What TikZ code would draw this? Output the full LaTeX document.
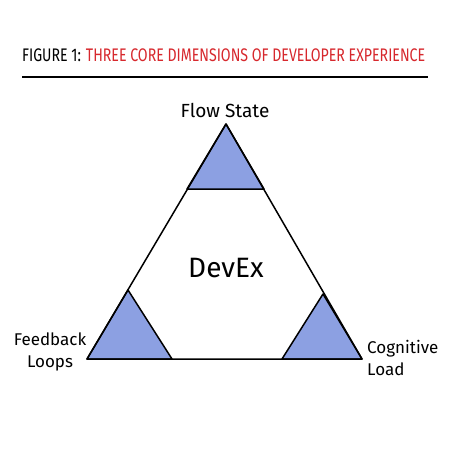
\documentclass[tikz,border=0pt]{standalone}
\usepackage{fontspec}
\setmainfont{Fira Sans}
\definecolor{cornerblue}{RGB}{140,160,226}
\definecolor{titlered}{RGB}{215,40,45}
\tikzset{
  edge/.style={draw=black, line width=1.5pt, line join=round, line cap=round},
  corner/.style={fill=cornerblue, draw=black, line width=1.5pt, line join=round},
  lbl/.style={font=\fontsize{17}{22}\selectfont, align=center, inner sep=0pt},
}
\begin{document}
\begin{tikzpicture}[x=1pt,y=-1pt]
\useasboundingbox (0,0) rectangle (450,450);
\fill[white] (0,0) rectangle (450,450);
% title
\node[anchor=west, inner sep=0pt, font=\fontsize{14}{16}\selectfont] (title) at (22,55)
  {\scalebox{1.01}[1.3]{FIGURE 1: \textcolor{titlered}{THREE CORE DIMENSIONS OF DEVELOPER EXPERIENCE}}};
\coordinate (ul1) at (22,77);
\coordinate (ul2) at (428,77);
\draw[line width=1.2pt] (ul1) -- (ul2);
% main triangle vertices
\coordinate (A) at (226,124);
\coordinate (B) at (87,359);
\coordinate (C) at (362,359);
% corner triangles
\coordinate (A1) at (187,189);
\coordinate (A2) at (264,189);
\coordinate (B1) at (128,290);
\coordinate (B2) at (172,359);
\coordinate (C1) at (323,294);
\coordinate (C2) at (282,359);
\path[corner] (A) -- (A1) -- (A2) -- cycle;
\path[corner] (B) -- (B1) -- (B2) -- cycle;
\path[corner] (C) -- (C1) -- (C2) -- cycle;
\path[edge] (A) -- (B) -- (C) -- cycle;
% labels
\node[lbl, font=\fontsize{19}{23}\selectfont] (flow) at (225,110) {Flow State};
\node[lbl, font=\fontsize{28}{32}\selectfont] (devex) at (226,268) {DevEx};
\node[lbl, align=center] (feed) at (50,352) {Feedback\\Loops};
\node[lbl, align=left, anchor=west] (cog) at (367,358) {Cognitive\\Load};
\end{tikzpicture}
\end{document}
